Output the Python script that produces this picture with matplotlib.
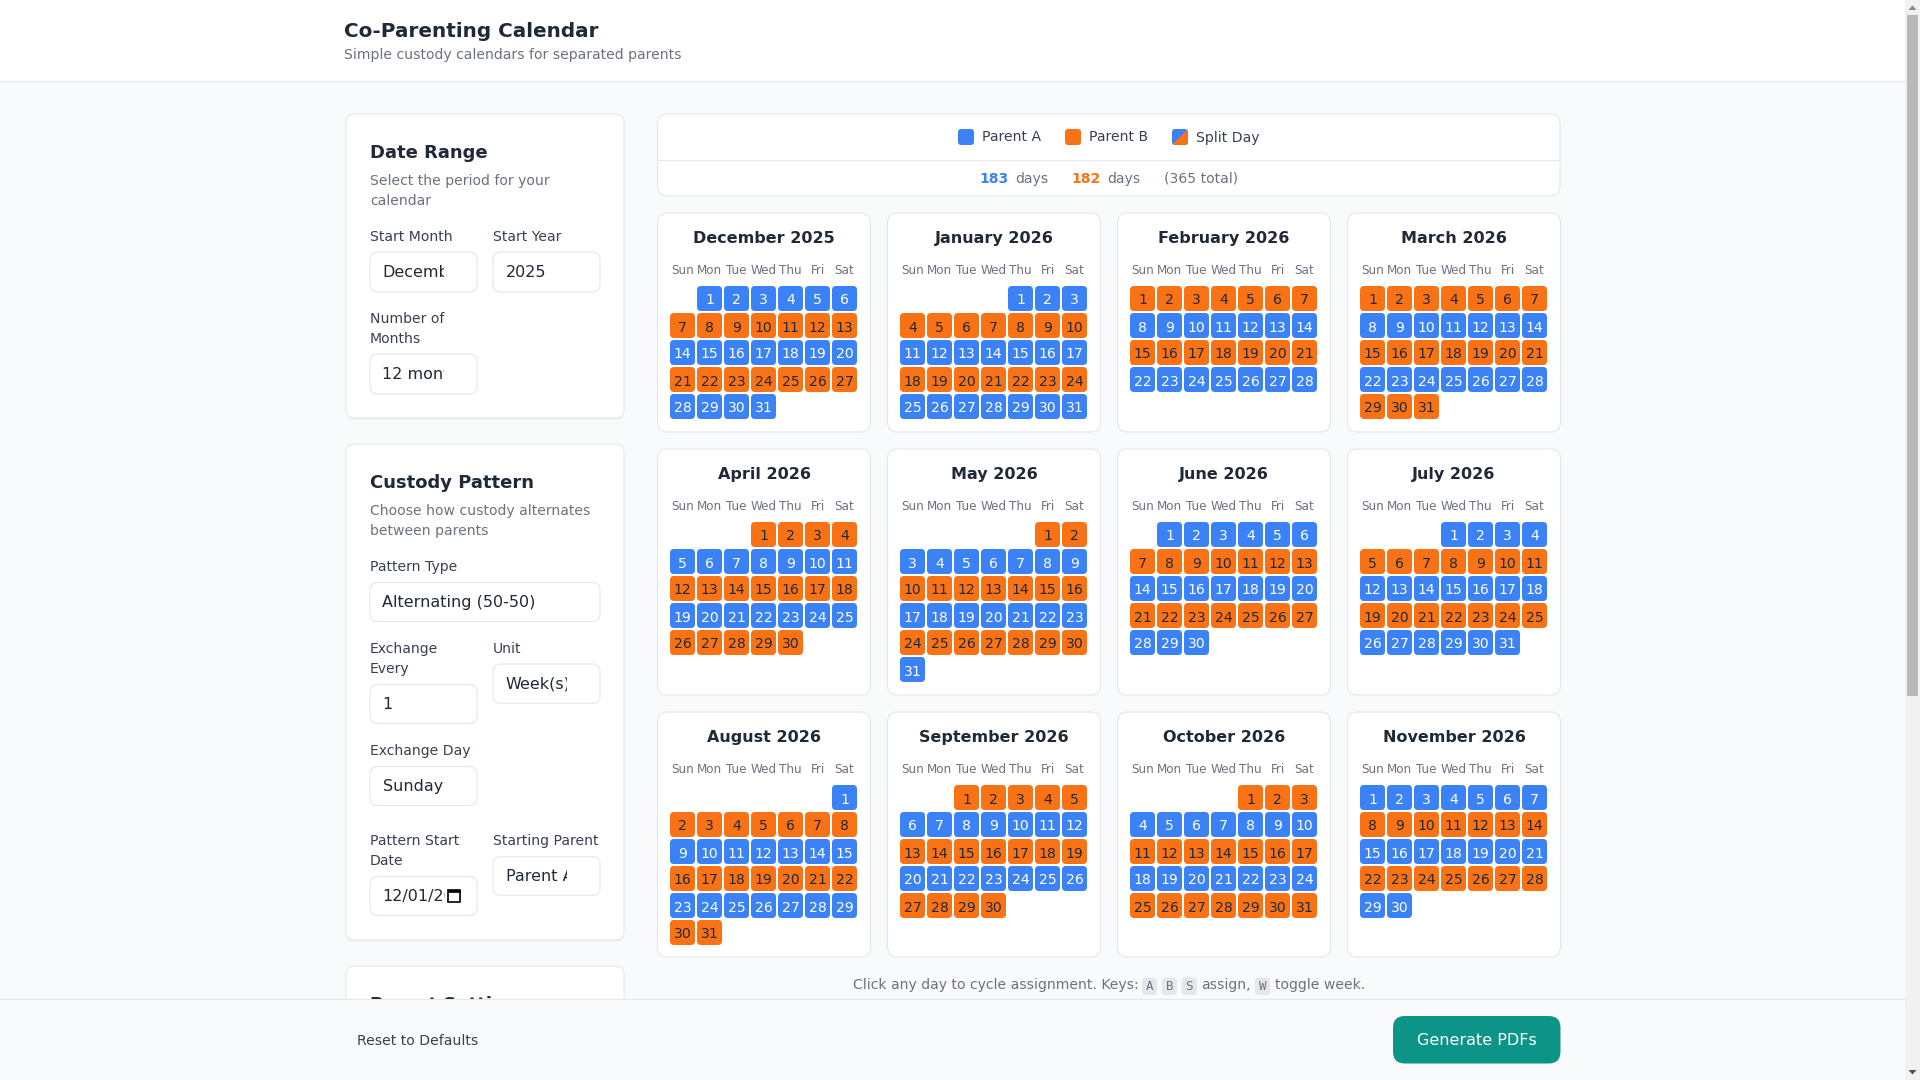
#!/usr/bin/env python3
"""Co-Parenting Calendar page, drawn in pixel coordinates on one full-figure axes."""

import matplotlib
matplotlib.use('Agg')
import matplotlib.pyplot as plt
from matplotlib.patches import FancyBboxPatch, Polygon, Rectangle

# Calendar data: month title, weekday of the 1st (Sun=0), number of days, owner per week row
MONTHS = ['December 2025', 'January 2026', 'February 2026', 'March 2026',
          'April 2026', 'May 2026', 'June 2026', 'July 2026',
          'August 2026', 'September 2026', 'October 2026', 'November 2026']
FIRST_WEEKDAY = [1, 4, 0, 0, 3, 5, 1, 3, 6, 2, 4, 0]
DAY_COUNTS = [31, 31, 28, 31, 30, 31, 30, 31, 31, 30, 31, 30]
WEEK_OWNERS = ['ABABA', 'ABABA', 'BABA', 'BABAB',
               'BABAB', 'BABABA', 'ABABA', 'ABABA',
               'ABABAB', 'BABAB', 'BABAB', 'ABABA']
WEEKDAYS = ['Sun', 'Mon', 'Tue', 'Wed', 'Thu', 'Fri', 'Sat']
PARENT_A_DAYS = 183
PARENT_B_DAYS = 182
TOTAL_DAYS = 365

BG = '#f9fafb'
BLUE = '#3b82f6'
ORANGE = '#f97316'
DARK = '#1f2937'
LABEL = '#374151'
GRAY = '#6b7280'
BORDER = '#e5e7eb'

CARD_X = [657.5, 887.5, 1117.5, 1347.5]
CARD_TOPS = [213, 449, 712]
CARD_HEIGHTS = [219, 246, 245]

fig = plt.figure(figsize=(19.2, 10.8), dpi=100, facecolor=BG)
ax = fig.add_axes([0, 0, 1, 1])
ax.set_xlim(0, 1920)
ax.set_ylim(1080, 0)
ax.axis('off')


def px(size):
    """CSS pixels to points at 100 dpi."""
    return size * 0.72


def box(x0, y0, x1, y1, radius=8, face='white', edge=BORDER, lw=0.8, z=1):
    patch = FancyBboxPatch((x0 + radius, y0 + radius), x1 - x0 - 2 * radius, y1 - y0 - 2 * radius,
                           boxstyle=f'round,pad={radius},rounding_size={radius}',
                           facecolor=face, edgecolor=edge, linewidth=lw, zorder=z)
    ax.add_patch(patch)
    return patch


def label(x, y, s, size=14, color=LABEL, weight='normal', ha='left', family='DejaVu Sans', z=5, clip_x=None):
    t = ax.text(x, y - 0.5, s, fontsize=px(size), color=color, fontweight=weight, ha=ha,
                va='center_baseline', family=family, zorder=z)
    if clip_x is not None:
        t.set_clip_path(Rectangle((x - 5, y - 20), clip_x - x + 5, 40, transform=ax.transData))
        t.set_clip_on(True)
    return t


def field(x0, y0, x1, y1, s, clip_x=None):
    box(x0, y0, x1, y1, radius=8, edge=BORDER, z=2)
    label(x0 + 12.5, (y0 + y1) / 2 - 0.5, s, size=16, color=DARK, clip_x=clip_x)


def side_card(y0, y1):
    box(346, y0 + 2, 624, y1 + 1.5, radius=8, face='#eceef0', edge='none', z=1)
    box(346, y0, 624, y1, radius=8, edge=BORDER, z=1.5)


# Header
ax.add_patch(Rectangle((0, 0), 1920, 80.5, facecolor='white', edgecolor='none', zorder=1))
ax.plot([0, 1920], [80.5, 80.5], color=BORDER, lw=0.8, zorder=2)
label(344.5, 30, 'Co-Parenting Calendar', size=20, color=DARK, weight='bold')
label(344.5, 54, 'Simple custody calendars for separated parents', size=14, color=GRAY)

# Date Range card
side_card(114, 418)
label(370, 151.5, 'Date Range', size=18, color=DARK, weight='bold')
label(370, 180, 'Select the period for your', size=14, color=GRAY)
label(370, 200, 'calendar', size=14, color=GRAY)
label(370, 236, 'Start Month')
label(493, 236, 'Start Year')
field(370, 252, 477, 292, 'December', clip_x=444)
field(493, 252, 600, 292, '2025')
label(370, 318, 'Number of')
label(370, 338, 'Months')
field(370, 354, 477, 394, '12 months', clip_x=444)

# Custody Pattern card
side_card(444, 940)
label(370, 481, 'Custody Pattern', size=18, color=DARK, weight='bold')
label(370, 510, 'Choose how custody alternates', size=14, color=GRAY)
label(370, 530, 'between parents', size=14, color=GRAY)
label(370, 566, 'Pattern Type')
field(370, 582.5, 600, 621.5, 'Alternating (50-50)')
label(370, 648, 'Exchange')
label(370, 668, 'Every')
label(493, 648, 'Unit')
field(493, 664, 600, 703.5, 'Week(s)', clip_x=567)
field(370, 684.5, 477, 723.5, '1')
label(370, 750, 'Exchange Day')
field(370, 766.5, 477, 805.5, 'Sunday')
label(370, 840, 'Pattern Start')
label(370, 860, 'Date')
label(493, 840, 'Starting Parent')
field(493, 856.5, 600, 895.5, 'Parent A', clip_x=567)
field(370, 876.5, 477, 915.5, '12/01/2025', clip_x=445)
# calendar picker icon
ax.add_patch(Rectangle((448, 889.5), 12, 12.5, facecolor='none', edgecolor='black', lw=1.2, zorder=6))
ax.add_patch(Rectangle((448, 889.5), 12, 2.5, facecolor='black', edgecolor='black', lw=0.5, zorder=6))

# Parent Settings card, cut off by the footer
side_card(966, 1100)
label(370, 1003, 'Parent Settings', size=18, color=DARK, weight='bold', z=3)

# Legend and totals bar
box(657.5, 114, 1560, 196, radius=10, edge=BORDER, z=1)
ax.plot([657.5, 1560], [159.5, 159.5], color=BORDER, lw=0.8, zorder=2)
box(958, 129, 974, 145, radius=3, face=BLUE, edge='none', z=3)
label(982, 136, 'Parent A')
box(1065, 129, 1081, 145, radius=3, face=ORANGE, edge='none', z=3)
label(1089, 136, 'Parent B')
split = box(1172, 129, 1188, 145, radius=3, face=BLUE, edge='none', z=3)
half = Polygon([(1188, 129), (1188, 145), (1172, 145)], closed=True, facecolor=ORANGE,
               edgecolor='none', zorder=3.5)
ax.add_patch(half)
half.set_clip_path(split)
label(1196, 137, 'Split Day')
label(979, 178, str(PARENT_A_DAYS), color=BLUE, weight='bold')
label(1015, 178, 'days', color=GRAY)
label(1071, 178, str(PARENT_B_DAYS), color=ORANGE, weight='bold')
label(1107, 178, 'days', color=GRAY)
label(1164, 178, f'({TOTAL_DAYS} total)', color=GRAY)

# Month cards
for i, month in enumerate(MONTHS):
    col = i % 4
    row = i // 4
    x0 = CARD_X[col]
    y0 = CARD_TOPS[row]
    box(x0, y0, x0 + 213, y0 + CARD_HEIGHTS[row], radius=10, edge=BORDER, z=1)
    label(x0 + 106.5, y0 + 24.5, month, size=16, color=DARK, weight='bold', ha='center')
    for d, name in enumerate(WEEKDAYS):
        label(x0 + 25 + 27 * d, y0 + 56.2, name, size=12, color=GRAY, ha='center')
    for day in range(1, DAY_COUNTS[i] + 1):
        slot = FIRST_WEEKDAY[i] + day - 1
        week = slot // 7
        wd = slot % 7
        cx = x0 + 12.5 + 27 * wd
        cy = y0 + 73 + 27 * week
        owner = WEEK_OWNERS[i][week]
        face = BLUE if owner == 'A' else ORANGE
        text_color = 'white' if owner == 'A' else DARK
        box(cx, cy, cx + 25, cy + 25, radius=4, face=face, edge='none', z=3)
        label(cx + 12.5, cy + 13.5, str(day), size=14, color=text_color, ha='center')

# Hint line
label(853, 983.5, 'Click any day to cycle assignment. Keys:', color=GRAY)
label(1201, 983.5, 'assign,', color=GRAY)
label(1275, 983.5, 'toggle week.', color=GRAY)
for key, x0, x1 in [('A', 1142, 1157), ('B', 1162, 1177), ('S', 1181.5, 1197), ('W', 1255, 1270)]:
    box(x0, 977.5, x1, 995, radius=4, face=BORDER, edge='none', z=2)
    label((x0 + x1) / 2, 985.5, key, size=12.5, color=GRAY, ha='center', family='DejaVu Sans Mono')

# Footer
ax.add_patch(Rectangle((0, 999), 1920, 81, facecolor=BG, edgecolor='none', zorder=10))
ax.plot([0, 1920], [999, 999], color=BORDER, lw=0.8, zorder=11)
label(357, 1040, 'Reset to Defaults', color=LABEL, z=12)
box(1393, 1016, 1560.5, 1063.5, radius=12, face='#0d9488', edge='none', z=11)
label(1477, 1039.5, 'Generate PDFs', size=16, color='white', ha='center', z=12)

# Scrollbar
ax.add_patch(Rectangle((1905, 0), 15, 1080, facecolor='#f1f1f1', edgecolor='none', zorder=13))
ax.add_patch(Rectangle((1907, 15), 11, 681, facecolor='#b9b9b9', edgecolor='none', zorder=14))
ax.add_patch(Polygon([(1908.5, 10), (1912.5, 5.5), (1916.5, 10)], closed=True, facecolor='#8a8a8a', edgecolor='none', zorder=14))
ax.add_patch(Polygon([(1908.5, 1070), (1912.5, 1074.5), (1916.5, 1070)], closed=True, facecolor='#505050', edgecolor='none', zorder=14))

fig.savefig('out.png', dpi=100, facecolor=BG)
